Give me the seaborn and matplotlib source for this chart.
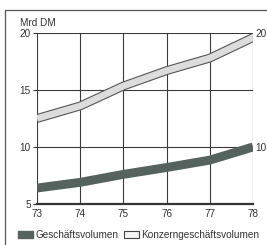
import matplotlib
matplotlib.use("Agg")
import matplotlib.pyplot as plt
import seaborn as sns
import pandas as pd
from matplotlib.patches import Patch
from matplotlib.lines import Line2D
import matplotlib.patheffects as pe

sns.set_theme(style="white")
plt.rcParams['font.family'] = ['Liberation Sans', 'DejaVu Sans']

years = [73, 74, 75, 76, 77, 78]
geschaeftsvolumen = [6.4, 6.9, 7.6, 8.2, 8.85, 10.0]
konzern_volumen = [12.5, 13.6, 15.35, 16.7, 17.8, 19.6]
left_ticks = [5, 10, 15, 20]
right_ticks = [10, 20]
unit_label = "Mrd DM"
legend_labels = ["Geschäftsvolumen", "Konzerngeschäftsvolumen"]

df = pd.DataFrame({"Jahr": years, "GV": geschaeftsvolumen, "KGV": konzern_volumen})

W, H = 267, 245
fig = plt.figure(figsize=(W / 100, H / 100), dpi=100)
ax = fig.add_axes([37 / W, (H - 204) / H, (253 - 37) / W, (204 - 33) / H])

grid_c = "#3a3a3a"
for y in [10, 15, 20]:
    ax.axhline(y, color=grid_c, lw=0.8, zorder=1)
for x in years:
    ax.axvline(x, color=grid_c, lw=0.8, zorder=1)

dark = "#56625d"
sns.lineplot(data=df, x="Jahr", y="GV", ax=ax, color=dark, lw=6.4,
             solid_capstyle="butt", zorder=3)
sns.lineplot(data=df, x="Jahr", y="KGV", ax=ax, color="#dcdcdc", lw=4.8,
             solid_capstyle="butt", zorder=3,
             path_effects=[pe.Stroke(linewidth=6.4, foreground="#555555"), pe.Normal()])

ax.set_xlim(73, 78)
ax.set_ylim(5, 20)
ax.set_xticks(years)
ax.set_xticklabels([str(y) for y in years])
ax.set_yticks(left_ticks)
ax.set_xlabel("")
ax.set_ylabel("")
for s in ["top", "right", "left"]:
    ax.spines[s].set_visible(False)
ax.spines["bottom"].set_color("#333333")
ax.spines["bottom"].set_linewidth(1.6)
ax.tick_params(axis="both", labelsize=7.2, colors="#333333", length=3, width=0.8,
               direction="out", pad=1.5)
ax.tick_params(axis="x", length=4, direction="inout")
ax.tick_params(axis="y", left=True)

ax2 = ax.twinx()
ax2.set_ylim(5, 20)
ax2.set_yticks(right_ticks)
ax2.tick_params(axis="y", labelsize=7.2, colors="#333333", length=0, pad=1.5)
for s in ax2.spines.values():
    s.set_visible(False)
ax2.grid(False)

fig.text(20 / W, 1 - 23 / H, unit_label, fontsize=7.2, color="#333333", va="center", ha="left")

# outer frame
fig.add_artist(Line2D([5 / W, 5 / W], [0, 1 - 10 / H], transform=fig.transFigure, color="#555555", lw=0.9))
fig.add_artist(Line2D([5 / W, 1], [1 - 10 / H, 1 - 10 / H], transform=fig.transFigure, color="#555555", lw=0.9))

handles = [Patch(facecolor=dark, edgecolor=dark),
           Patch(facecolor="#f4f4f4", edgecolor="#444444", linewidth=0.8)]
fig.legend(handles, legend_labels, loc="center left", bbox_to_anchor=(18 / W, 1 - 235 / H),
           ncol=2, frameon=False, fontsize=7.2, handlelength=1.5, handleheight=0.7,
           handletextpad=0.25, columnspacing=0.5, borderpad=0, borderaxespad=0,
           labelcolor="#333333")

fig.savefig("out.png", dpi=100)
